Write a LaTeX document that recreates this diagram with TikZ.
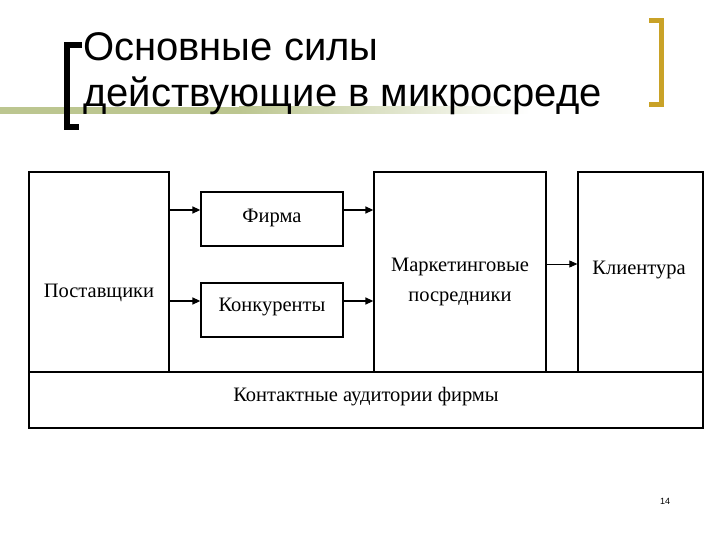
\documentclass[tikz,border=0pt]{standalone}
\usepackage{fontspec}
\setmainfont{Liberation Serif}
\newfontfamily\titlefont{Liberation Sans}
\usetikzlibrary{arrows.meta}
\definecolor{olivebar}{HTML}{BCC690}
\definecolor{goldbar}{HTML}{C9A227}
\tikzset{
  boxnode/.style={draw=black, line width=1.3pt, inner sep=0pt, fill=white},
  lbl/.style={font=\fontsize{20.5}{30}\selectfont, inner sep=0pt, align=center},
  arr/.style={line width=1.3pt, -{Triangle[length=8pt,width=7pt]}},
  thinarr/.style={line width=0.8pt, -{Triangle[length=8pt,width=7pt]}},
  titletext/.style={font=\titlefont\fontsize{40}{46}\selectfont, anchor=base west, inner sep=0pt}
}
\begin{document}
\begin{tikzpicture}[x=1pt,y=-1pt]
\useasboundingbox (0,0) rectangle (720,540);
\fill[white] (0,0) rectangle (720,540);
% green band
\fill[olivebar] (0,107) rectangle (240,114);
\shade[left color=olivebar, right color=white] (239,107) rectangle (530,114);
% brackets
\draw[line width=6pt, line cap=butt, line join=miter] (82,45) -- (67,45) -- (67,127) -- (79,127);
\draw[goldbar, line width=5pt, line join=miter] (649,21) -- (661,21) -- (661,105) -- (649,105);
% title
\node[titletext] (t1) at (83,61) {Основные силы};
\node[titletext] (t2) at (83,107) {действующие в микросреде};
% boxes
\node[boxnode, minimum width=674pt, minimum height=56pt] (aud) at (366,400) {};
\node[boxnode, minimum width=140pt, minimum height=200pt] (post) at (99,272) {};
\node[boxnode, minimum width=142pt, minimum height=54pt] (fir) at (272,219) {};
\node[boxnode, minimum width=142pt, minimum height=54pt] (kon) at (272,310) {};
\node[boxnode, minimum width=172pt, minimum height=200pt] (mar) at (460,272) {};
\node[boxnode, minimum width=125pt, minimum height=200pt] (kli) at (640.5,272) {};
% labels
\node[lbl] (postl) at (99,293) {Поставщики};
\node[lbl] (firl) at (272,218) {Фирма};
\node[lbl] (konl) at (272,307) {Конкуренты};
\node[lbl] (marl) at (460,282) {Маркетинговые\\посредники};
\node[lbl] (klil) at (639,270) {Клиентура};
\node[lbl] (audl) at (366,397) {Контактные аудитории фирмы};
% arrows
\coordinate (ya) at (0,210);
\coordinate (yb) at (0,301);
\coordinate (yc) at (0,264);
\draw[arr] (post.east |- ya) -- (fir.west |- ya);
\draw[arr] (post.east |- yb) -- (kon.west |- yb);
\draw[arr] (fir.east |- ya) -- (mar.west |- ya);
\draw[arr] (kon.east |- yb) -- (mar.west |- yb);
\draw[thinarr] (mar.east |- yc) -- (kli.west |- yc);
% page number
\node[font=\titlefont\fontsize{9}{10}\selectfont, inner sep=0pt] (pg) at (665,501) {14};
\end{tikzpicture}
\end{document}
